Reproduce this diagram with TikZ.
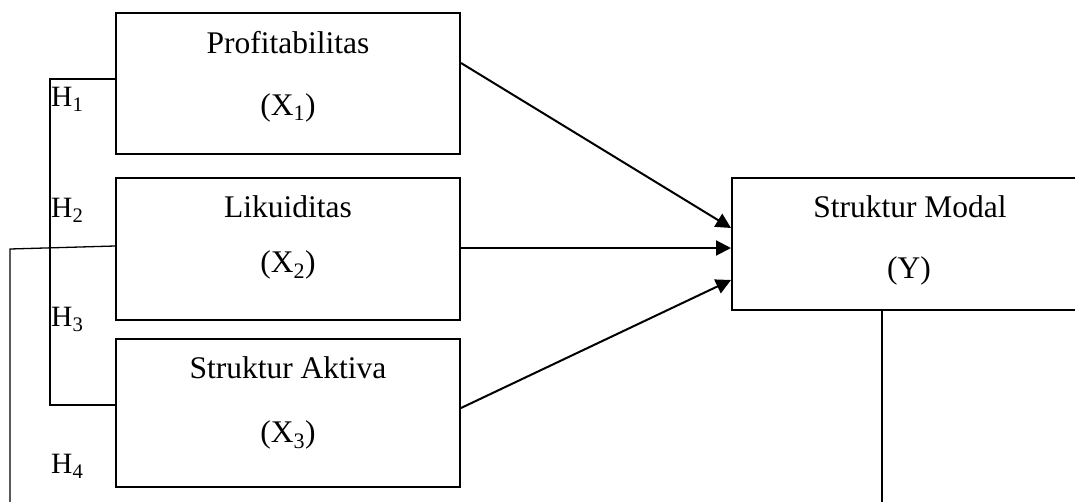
\documentclass[tikz,border=0pt]{standalone}
\usepackage{fontspec}
\setmainfont{Liberation Serif}
\usetikzlibrary{arrows.meta}
\begin{document}
\begin{tikzpicture}[x=1pt,y=-1pt,
  box/.style={draw,line width=2pt,inner sep=0pt,rectangle},
  lbl/.style={font=\fontsize{31.5}{36}\selectfont,anchor=base,inner sep=0pt},
  hlbl/.style={font=\fontsize{29.5}{34}\selectfont,anchor=base west,inner sep=0pt},
  arr/.style={line width=2pt,-{Triangle[length=15pt,width=15pt]}},
  thin/.style={line width=1.3pt}]
\useasboundingbox (0,0) rectangle (1075,501);
\clip (0,0) rectangle (1075,501);
% boxes
\node[box,minimum width=344pt,minimum height=141pt] (b1) at (288,83.5) {};
\node[box,minimum width=344pt,minimum height=142pt] (b2) at (288,249) {};
\node[box,minimum width=344pt,minimum height=148pt] (b3) at (288,413) {};
\node[box,minimum width=358pt,minimum height=132pt] (bY) at (911,244) {};
% texts
\node[lbl] (t1) at (288,53) {Profitabilitas};
\node[lbl] (s1) at (288,115) {(X\textsubscript{1})};
\node[lbl] (t2) at (288,217) {Likuiditas};
\node[lbl] (s2) at (288,272) {(X\textsubscript{2})};
\node[lbl] (t3) at (288,378) {Struktur Aktiva};
\node[lbl] (s3) at (288,442) {(X\textsubscript{3})};
\node[lbl] (tY) at (910,217) {Struktur Modal};
\node[lbl] (sY) at (909,278) {(Y)};
% H labels
\node[hlbl] (h1) at (51,106) {H\textsubscript{1}};
\node[hlbl] (h2) at (51,217) {H\textsubscript{2}};
\node[hlbl] (h3) at (51,326) {H\textsubscript{3}};
\node[hlbl] (h4) at (51,473) {H\textsubscript{4}};
% arrows
\draw[arr] ([yshift=20.5pt]b1.east) -- ([yshift=16pt]bY.west);
\draw[arr] ([yshift=1pt]b2.east) -- ([yshift=-4pt]bY.west);
\draw[arr] ([yshift=5pt]b3.east) -- ([yshift=-36pt]bY.west);
% bracket lines
\coordinate (k1) at (50,79);
\coordinate (k2) at (50,405);
\draw[thin] ([yshift=4.5pt]b1.west) -- (k1) -- (k2) -- ([yshift=8pt]b3.west);
\coordinate (m1) at (10,249);
\coordinate (m2) at (10,510);
\draw[thin] ([yshift=3pt]b2.west) -- (m1) -- (m2);
\coordinate (y2) at (882,510);
\draw[thin] ([xshift=-29pt]bY.south) -- (y2);
\end{tikzpicture}
\end{document}
